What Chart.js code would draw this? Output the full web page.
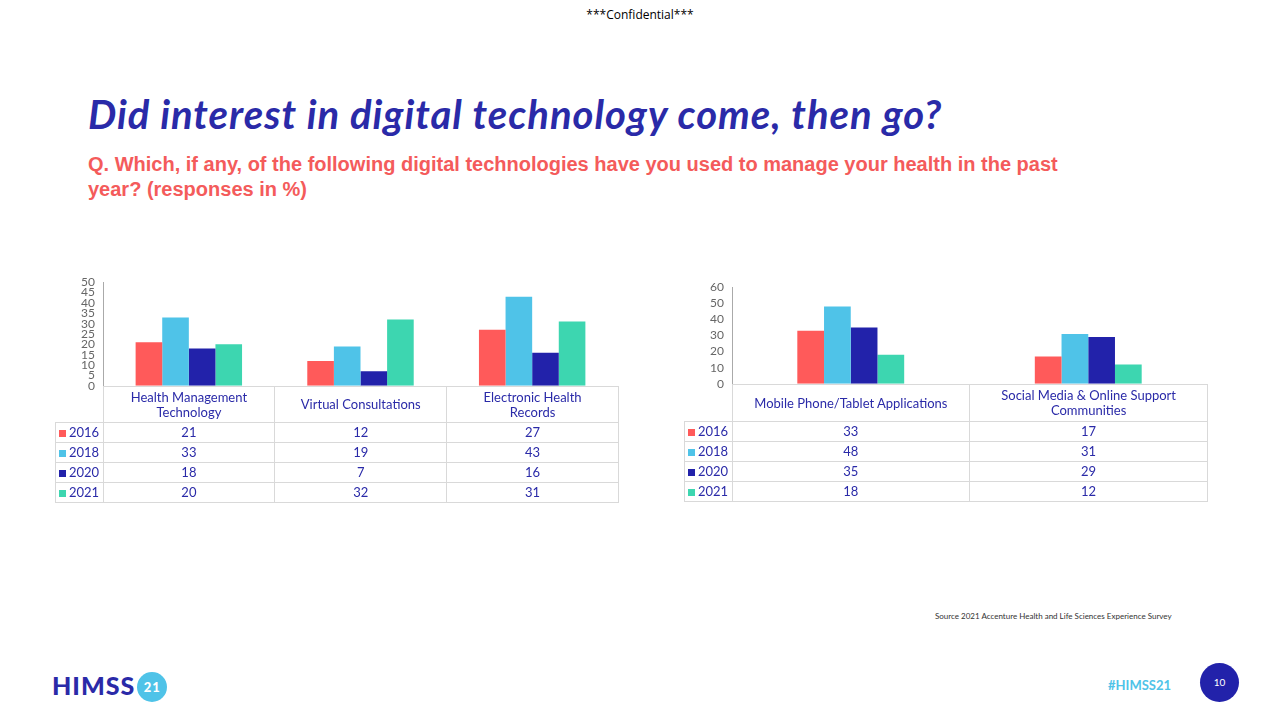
<!DOCTYPE html>
<html><head><meta charset="utf-8">
<script src="https://cdn.jsdelivr.net/npm/chart.js@4/dist/chart.umd.min.js"></script>
<style>
body{margin:0;width:1280px;height:720px;position:relative;background:#fff;font-family:Lato,"Open Sans",sans-serif;overflow:hidden}
.abs{position:absolute}
table{border-collapse:collapse;font-size:13px;color:#2a2aa8;table-layout:fixed}
td{border:1px solid #d9d9d9;text-align:center;padding:0;line-height:15px}
td.l{text-align:left;padding-left:3px;width:44px}
.sw{display:inline-block;width:7px;height:7px;margin-right:3px}
</style></head><body>
<div class="abs" style="left:0;width:1280px;top:6px;text-align:center;font-size:12px;font-family:'Open Sans'">***Confidential***</div>
<div class="abs" style="left:88px;top:90px;font-size:40px;font-style:italic;font-weight:bold;color:#2a2aa8;font-family:Lato;letter-spacing:1px">Did interest in digital technology come, then go?</div>
<div class="abs" style="left:88px;top:152px;width:990px;font-size:20px;font-weight:bold;color:#f45b5b;font-family:'Liberation Sans';line-height:25px">Q. Which, if any, of the following digital technologies have you used to manage your health in the past year? (responses in %)</div>
<div class="abs" style="left:60px;top:272px;width:558px;height:124px"><canvas id="c1"></canvas></div>
<div class="abs" style="left:689px;top:277px;width:518px;height:117px"><canvas id="c2"></canvas></div>
<table id="t1" class="abs" style="left:55px;top:386px;width:564px"></table>
<table id="t2" class="abs" style="left:684px;top:384px;width:524px"></table>
<div class="abs" style="left:935px;top:611px;font-size:8px;color:#333">Source 2021 Accenture Health and Life Sciences Experience Survey</div>
<div class="abs" style="left:52px;top:670px;font-size:25px;font-weight:900;color:#2a2aa8;letter-spacing:1px">HIMSS<span style="display:inline-block;background:#4fc3e8;color:#fff;border-radius:50%;width:30px;height:30px;font-size:13px;text-align:center;line-height:30px;margin-left:2px;vertical-align:3px">21</span></div>
<div class="abs" style="left:1108px;top:677px;font-size:13px;font-weight:bold;color:#4fc3e8">#HIMSS21</div>
<div class="abs" style="left:1200px;top:663px;width:39px;height:39px;border-radius:50%;background:#2222aa;color:#fff;font-size:10px;text-align:center;line-height:39px">10</div>
<script>
const years = ["2016", "2018", "2020", "2021"];
const colors = ["#ff5a5a", "#4fc3e8", "#2222aa", "#3dd6b0"];
const leftCats = [["Health Management", "Technology"], ["Virtual Consultations"], ["Electronic Health", "Records"]];
const left2016 = [21, 12, 27];
const left2018 = [33, 19, 43];
const left2020 = [18, 7, 16];
const left2021 = [20, 32, 31];
const rightCats = [["Mobile Phone/Tablet Applications"], ["Social Media & Online Support", "Communities"]];
const right2016 = [33, 17];
const right2018 = [48, 31];
const right2020 = [35, 29];
const right2021 = [18, 12];

function build(id, tid, cats, series, max, step, catPct, hdrH, rowH) {
  new Chart(document.getElementById(id), {
    type: "bar",
    data: {
      labels: cats.map(c => c.join(" ")),
      datasets: series.map((s, i) => ({ label: years[i], data: s, backgroundColor: colors[i], barPercentage: 1, categoryPercentage: catPct }))
    },
    options: {
      responsive: true, maintainAspectRatio: false, animation: false,
      layout: { padding: { top: 8, bottom: 0 } },
      plugins: { legend: { display: false }, tooltip: { enabled: false } },
      scales: {
        x: { display: false },
        y: {
          min: 0, max: max,
          afterFit: s => { s.width = 43; },
          ticks: { stepSize: step, autoSkip: false, color: "#666", font: { size: 12, family: "Lato" }, padding: 3 },
          grid: { display: false, drawTicks: true, tickLength: 5 },
          border: { display: true, color: "#aaa" }
        }
      }
    }
  });
  // data table under the plot
  const t = document.getElementById(tid);
  let h = `<tr style="height:${hdrH}px"><td class="l" style="border-top:none;border-left:none"></td>` +
    cats.map(c => `<td>${c.join("<br>")}</td>`).join("") + "</tr>";
  series.forEach((s, i) => {
    h += `<tr style="height:${rowH}px"><td class="l"><span class="sw" style="background:${colors[i]}"></span>${years[i]}</td>` +
      s.map(v => `<td>${v}</td>`).join("") + "</tr>";
  });
  t.innerHTML = h;
}
build("c1", "t1", leftCats, [left2016, left2018, left2020, left2021], 50, 5, 0.62, 36, 20);
build("c2", "t2", rightCats, [right2016, right2018, right2020, right2021], 60, 10, 0.45, 37, 20);
</script>
</body></html>
